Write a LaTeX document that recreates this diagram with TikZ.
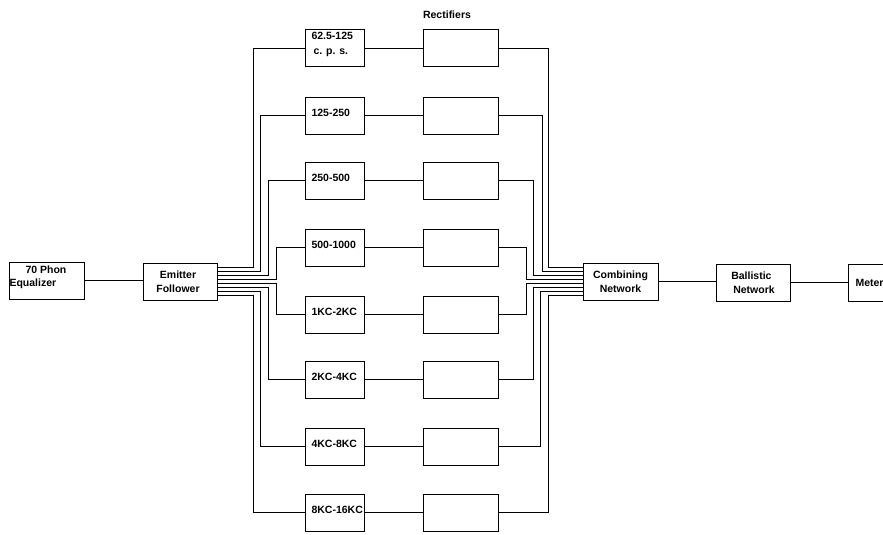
\documentclass[tikz,border=0pt]{standalone}
\usepackage{fontspec}
\setmainfont{Liberation Sans}
\begin{document}
\begin{tikzpicture}[x=1pt,y=-1pt,
  line width=1pt,
  box/.style={draw, rectangle, inner sep=0pt, outer sep=0pt, anchor=north west,
    minimum height=37pt, font=\bfseries\fontsize{10.5}{13.5}\selectfont, align=center},
  fbox/.style={box, minimum width=59pt},
  rbox/.style={box, minimum width=75pt},
  lab/.style={anchor=west, inner sep=0pt, xshift=6pt, yshift=3pt, align=left,
    font=\bfseries\fontsize{10.5}{15}\selectfont},
  txt/.style={font=\bfseries\fontsize{10.5}{13.5}\selectfont, inner sep=0pt}]
\useasboundingbox (0,0) rectangle (883,535);
% main chain
\node[box, minimum width=75pt] (eq) at (9,262) {};
\node[txt, align=left, anchor=north west] (eqt) at (9,265) {\hspace*{16pt}70 Phon\\Equalizer};
\node[box, minimum width=74pt] (ef) at (143,263) {Emitter\hspace*{4pt}\\Follower\hspace*{4pt}};
\node[box, minimum width=75pt] (cn) at (583,263) {Combining\\Network};
\node[box, minimum width=74pt, align=left] (bn) at (716,264) {Ballistic\\\hspace*{2pt}Network};
\node[box, minimum width=75pt] (mt) at (848,264) {};
\node[txt, anchor=west] (mtt) at (855,283) {Meter};
\node[txt] (rl) at (447,15) {Rectifiers};
% filters and rectifiers
\node[fbox, label={[lab, yshift=1pt]west:62.5-125\\\hspace*{2pt}c. p. s.}] (f1) at (305,30) {};
\node[fbox, label={[lab]west:125-250}] (f2) at (305,97) {};
\node[fbox, label={[lab]west:250-500}] (f3) at (305,162) {};
\node[fbox, label={[lab]west:500-1000}] (f4) at (305,229) {};
\node[fbox, label={[lab]west:1KC-2KC}] (f5) at (305,296) {};
\node[fbox, label={[lab]west:2KC-4KC}] (f6) at (305,361) {};
\node[fbox, label={[lab]west:4KC-8KC}] (f7) at (305,428) {};
\node[fbox, label={[lab]west:8KC-16KC}] (f8) at (305,494) {};
\foreach \i/\t in {1/30,2/97,3/162,4/229,5/296,6/361,7/428,8/494}{
  \node[rbox] (r\i) at (423,\t) {};
  \draw (f\i.east) -- (r\i.west);
}
% fan-out / fan-in
\foreach \i/\s/\dl/\dr in {1/14/52/50,2/10/45/44,3/6/37/35,4/2/29/28,5/-2/29/28,6/-6/37/35,7/-10/45/42,8/-14/52/50}{
  \draw ([yshift=\s pt]ef.east) -| ([xshift=-\dl pt]f\i.west) -- (f\i.west);
  \draw (r\i.east) -- ([xshift=\dr pt]r\i.east) |- ([yshift=\s pt]cn.west);
}
\draw (eq.east) -- (ef.west |- eq.east);
\draw (cn.east) -- (bn.west |- cn.east);
\draw (bn.east) -- (mt.west);
\end{tikzpicture}
\end{document}
